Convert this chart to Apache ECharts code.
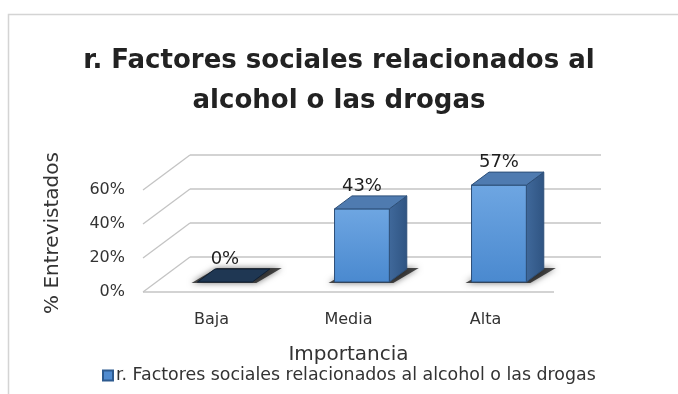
<!DOCTYPE html>
<html>
<head>
<meta charset="utf-8">
<script src="https://cdn.jsdelivr.net/npm/echarts@6/dist/echarts.min.js"></script>
<style>
  html, body { margin: 0; padding: 0; background: #ffffff; }
  #chart { width: 678px; height: 394px; }
</style>
</head>
<body>
<div id="chart"></div>
<script>
// Chart content
const titleText = 'r. Factores sociales relacionados al\nalcohol o las drogas';
const seriesName = 'r. Factores sociales relacionados al alcohol o las drogas';
const categories = ['Baja', 'Media', 'Alta'];
const values = [0, 43, 57];
const yTicks = [0, 20, 40, 60];
const yAxisTitle = '% Entrevistados';
const xAxisTitle = 'Importancia';

// Pseudo-3D box geometry (pixel offsets of the back wall from the front plane)
const WALL_DX = 47, WALL_DY = -35;
const BAR_FRONT = 10 / 35;   // front face of the columns, as a fraction of the depth
const BAR_DEPTH = 13 / 35;   // depth of each column, as a fraction of the depth
const FONT = '"DejaVu Sans", sans-serif';

const chart = echarts.init(document.getElementById('chart'), null, { renderer: 'canvas' });

// Side wall and back wall gridlines, one set per tick value
function renderWalls(params, api) {
  const v = api.value(0);
  const y = api.coord([0, v])[1];
  const cs = params.coordSys;
  const x0 = cs.x, x1 = cs.x + cs.width;
  const stroke = { stroke: '#c4c4c4', lineWidth: 1.3 };
  const children = [
    { type: 'line', shape: { x1: x0, y1: y, x2: x0 + WALL_DX, y2: y + WALL_DY }, style: stroke },
    { type: 'line', shape: { x1: x0 + WALL_DX, y1: y + WALL_DY, x2: x1 + WALL_DX, y2: y + WALL_DY }, style: stroke }
  ];
  if (v === yTicks[0]) {
    children.push({ type: 'line', shape: { x1: x0, y1: y, x2: x1, y2: y }, style: stroke });
  }
  return { type: 'group', children: children };
}

// Columns drawn as boxes: shadow, front, side and top faces, plus the value label
function renderBar(params, api) {
  const idx = api.value(0);
  const v = api.value(1);
  const base = api.coord([idx, 0]);
  const top = api.coord([idx, v]);
  const band = api.size([1, 0])[0];
  const w = band * 0.4;
  const ox = WALL_DX * BAR_FRONT, oy = WALL_DY * BAR_FRONT;
  const dx = WALL_DX * BAR_DEPTH, dy = WALL_DY * BAR_DEPTH;
  const left = base[0] - w / 2 + ox;
  const right = left + w;
  const bottom = base[1] + oy;
  const topY = top[1] + oy;
  const flat = bottom - topY < 1;
  const edge = '#2d4f78';

  const children = [];
  // soft shadow on the floor
  children.push({
    type: 'polygon',
    shape: { points: [[left - 6, bottom + 1], [right + 4, bottom + 1], [right + dx + 12, bottom + dy - 1], [left + dx + 2, bottom + dy - 1]] },
    style: { fill: 'rgba(20,20,20,0.75)', shadowBlur: 6, shadowColor: 'rgba(0,0,0,0.7)' }
  });
  if (!flat) {
    children.push({
      type: 'polygon',
      shape: { points: [[right, bottom], [right + dx, bottom + dy], [right + dx, topY + dy], [right, topY]] },
      style: {
        fill: new echarts.graphic.LinearGradient(0, 0, 1, 0, [
          { offset: 0, color: '#40699b' }, { offset: 1, color: '#2f5482' }
        ]),
        stroke: edge, lineWidth: 1
      }
    });
    children.push({
      type: 'rect',
      shape: { x: left, y: topY, width: w, height: bottom - topY },
      style: {
        fill: new echarts.graphic.LinearGradient(0, 0, 0, 1, [
          { offset: 0, color: '#6ea6e2' }, { offset: 1, color: '#4a89cf' }
        ]),
        stroke: edge, lineWidth: 1
      }
    });
  }
  children.push({
    type: 'polygon',
    shape: { points: [[left, topY], [right, topY], [right + dx, topY + dy], [left + dx, topY + dy]] },
    style: { fill: flat ? '#1f3753' : '#4f7bb0', stroke: flat ? '#0f1f33' : edge, lineWidth: 1 }
  });
  children.push({
    type: 'text',
    style: {
      x: left + w / 2, y: topY + dy - 10,
      text: v + '%', align: 'center', verticalAlign: 'middle',
      fill: '#1e1e1e', font: '18px ' + FONT
    }
  });
  return { type: 'group', children: children };
}

const option = {
  backgroundColor: '#ffffff',
  animation: false,
  title: {
    text: titleText,
    left: 'center',
    top: 36,
    textStyle: { fontFamily: FONT, fontWeight: 'bold', fontSize: 26, lineHeight: 40, color: '#222222' }
  },
  graphic: [{
    type: 'rect', silent: true, z: -10,
    shape: { x: 8.5, y: 14.5, width: 700, height: 400 },
    style: { fill: 'none', stroke: '#d4d4d4', lineWidth: 1.5 }
  }],
  legend: {
    data: [{ name: seriesName, icon: 'rect' }],
    bottom: 5,
    left: 97,
    itemWidth: 10, itemHeight: 10, itemGap: 4,
    textStyle: { fontFamily: FONT, fontSize: 17.4, color: '#333333', padding: [0, 0, 0, -2] }
  },
  grid: { left: 143, right: 124, top: 190, bottom: 102 },
  xAxis: {
    type: 'category',
    data: categories,
    axisLine: { show: false },
    axisTick: { show: false },
    axisLabel: { margin: 20, fontFamily: FONT, fontSize: 16, color: '#333333' },
    name: xAxisTitle,
    nameLocation: 'middle',
    nameGap: 53,
    nameTextStyle: { fontFamily: FONT, fontSize: 20, color: '#333333' }
  },
  yAxis: {
    type: 'value',
    min: 0, max: 60, interval: 20,
    axisLine: { show: false },
    axisTick: { show: false },
    splitLine: { show: false },
    axisLabel: { formatter: '{value}%', margin: 18, fontFamily: FONT, fontSize: 16, color: '#333333' },
    name: yAxisTitle,
    nameLocation: 'middle',
    nameGap: 80,
    nameTextStyle: { fontFamily: FONT, fontSize: 20, color: '#333333', padding: [0, 0, 0, 16] }
  },
  series: [
    {
      type: 'custom',
      name: 'walls',
      renderItem: renderWalls,
      data: yTicks.map(function (t) { return [t]; }),
      encode: { y: 0 },
      z: 1,
      silent: true
    },
    {
      type: 'custom',
      name: seriesName,
      renderItem: renderBar,
      itemStyle: { color: '#4f8bd0', borderColor: '#2d5a8f', borderWidth: 1 },
      data: values.map(function (v, i) { return [i, v]; }),
      encode: { x: 0, y: 1 },
      z: 2
    }
  ]
};

chart.setOption(option);
</script>
</body>
</html>
